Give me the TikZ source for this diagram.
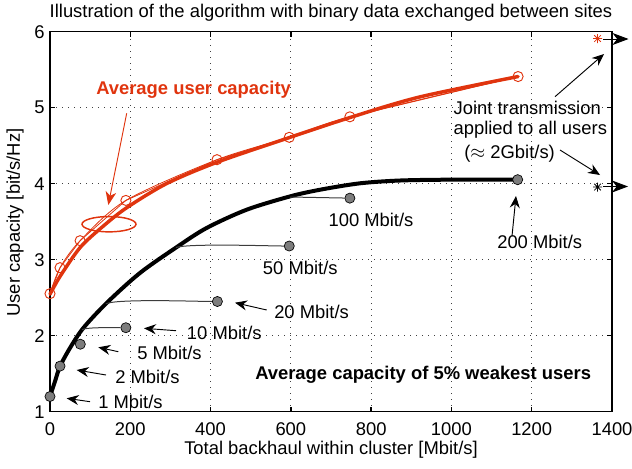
\documentclass[tikz,border=0pt]{standalone}
\usepackage{fontspec}
\setmainfont{Liberation Sans}
\usetikzlibrary{arrows.meta,shapes.geometric}
\definecolor{myred}{RGB}{224,52,14}
\definecolor{dotgray}{RGB}{125,125,125}
\definecolor{linegray}{RGB}{60,60,60}
\begin{document}
\begin{tikzpicture}[x=0.75pt,y=-0.75pt,
  every node/.style={font=\fontsize{13.8pt}{16.5pt}\selectfont, inner sep=0pt},
  boldtxt/.style={font=\fontsize{13.8pt}{16.5pt}\selectfont\bfseries},
  lbl/.style={anchor=west},
  gridline/.style={draw=black!75, line width=0.6pt, dash pattern=on 0.6pt off 3.9pt},
  axisline/.style={draw=black, line width=1pt},
  blackcurve/.style={draw=black, line width=3pt, line cap=round},
  redcurve/.style={draw=myred, line width=2.6pt, line cap=round},
  redthin/.style={draw=myred, line width=0.6pt},
  thinline/.style={draw=linegray, line width=0.75pt},
  gdot/.style={circle, draw=black, fill=dotgray, line width=0.5pt, minimum size=7.6pt},
  rcirc/.style={circle, draw=myred, line width=0.7pt, minimum size=7.6pt},
  ann/.style={draw=black, line width=0.7pt, -{Stealth[length=9pt,width=7.5pt,inset=3pt]}},
  bigann/.style={draw=black, line width=0.7pt, -{Stealth[length=12pt,width=9pt,inset=3.5pt]}},
  redann/.style={draw=myred, line width=0.7pt, -{Stealth[length=10pt,width=8pt,inset=3pt]}},
  starmark/.style={line width=0.6pt}
]
\useasboundingbox (0,0) rectangle (632,468);

% ---------- data coordinate system ----------
\begin{scope}[shift={(37.5pt,-365.775pt)}, x=0.30107pt, y=57pt]
  \foreach \v in {200,400,...,1200} \draw[gridline] (\v,1) -- (\v,6);
  \foreach \v in {2,...,5} \draw[gridline] (0,\v) -- (1400,\v);
  \foreach \v in {0,200,...,1400} {
    \draw[axisline] (\v,1) -- ++(0,3.75pt);
    \draw[axisline] (\v,6) -- ++(0,-3.75pt);
    \node[yshift=-13.2pt] (xt\v) at (\v,1) {\v};
  }
  \foreach \v in {1,...,6} {
    \draw[axisline] (0,\v) -- ++(3.75pt,0);
    \draw[axisline] (1400,\v) -- ++(-3.75pt,0);
    \node[anchor=east, xshift=-3.9pt] (yt\v) at (0,\v) {\v};
  }
  \draw[axisline] (0,1) rectangle (1400,6);

  % red curves
  \draw[redthin] plot[smooth, tension=0.5] coordinates {(0,2.553) (25,2.895) (75,3.25) (189,3.78) (416,4.316) (596,4.61) (747,4.88) (1166,5.41)};
  \draw[redcurve] plot[smooth, tension=0.5] coordinates {(0,2.545) (25,2.78) (75,3.16) (130,3.43) (190,3.68) (290,4.0) (415,4.28) (595,4.605) (747,4.87) (920,5.14) (1166,5.41)};
  \node[rcirc] (r1) at (0,2.553) {};
  \node[rcirc] (r2) at (25,2.895) {};
  \node[rcirc] (r3) at (75,3.25) {};
  \node[rcirc] (r4) at (189,3.78) {};
  \node[rcirc] (r5) at (416,4.316) {};
  \node[rcirc] (r6) at (596,4.61) {};
  \node[rcirc] (r7) at (747,4.88) {};
  \node[rcirc] (r8) at (1166,5.41) {};
  \draw[redthin] (r1.center) -- (r2.center) -- (r3.center) -- (r4.center) -- (r5.center) -- (r6.center) -- (r7.center) -- (r8.center);

  % black curve
  \draw[blackcurve] plot[smooth, tension=0.5] coordinates {(0,1.201) (12.5,1.40) (24.9,1.596) (50,1.84) (83,2.101) (141,2.43) (224,2.825) (316,3.167) (390,3.417) (490,3.658) (598,3.833) (673,3.921) (772,4.005) (872,4.042) (996,4.053) (1165,4.053)};
  \coordinate (c10) at (80,2.08);
  \coordinate (c20) at (139,2.42);
  \coordinate (c50) at (314,3.16);
  \coordinate (c100) at (598,3.825);
  \node[gdot] (b1) at (0,1.2) {};
  \node[gdot] (b2) at (25,1.6) {};
  \node[gdot] (b5) at (75.5,1.888) {};
  \node[gdot] (b10) at (189,2.105) {};
  \node[gdot] (b20) at (417,2.45) {};
  \node[gdot] (b50) at (596,3.18) {};
  \node[gdot] (b100) at (747,3.81) {};
  \node[gdot] (b200) at (1165,4.053) {};
  \draw[thinline] (c10) to[out=30,in=180,looseness=0.35] (b10);
  \draw[thinline] (c20) to[out=25,in=180,looseness=0.3] (b20);
  \draw[thinline] (c50) to[out=20,in=180,looseness=0.3] (b50);
  \draw[thinline] (c100) -- (b100);

  % joint transmission stars
  \coordinate (s1) at (1364,5.91);
  \coordinate (s2) at (1364,3.956);
\end{scope}

% star markers
\draw[starmark, myred] (s1) ++(-4.5,0) -- ++(9,0) (s1) ++(0,-4.5) -- ++(0,9) (s1) ++(-3.3,-3.3) -- ++(6.6,6.6) (s1) ++(-3.3,3.3) -- ++(6.6,-6.6);
\draw[starmark, black] (s2) ++(-4.5,0) -- ++(9,0) (s2) ++(0,-4.5) -- ++(0,9) (s2) ++(-3.3,-3.3) -- ++(6.6,6.6) (s2) ++(-3.3,3.3) -- ++(6.6,-6.6);
\coordinate (s1t) at (603,39);
\coordinate (s1h) at (628.5,39);
\coordinate (s2t) at (603,186.5);
\coordinate (s2h) at (628,186.5);
\draw[bigann] (s1t) -- (s1h);
\draw[bigann] (s2t) -- (s2h);

% title and axis labels
\node (title) at (331,13) {Illustration of the algorithm with binary data exchanged between sites};
\node (xlab) at (331,450) {Total backhaul within cluster [Mbit/s]};
\node[rotate=90] (ylab) at (15,222.5) {User capacity [bit/s/Hz]};

% red annotation
\node[boldtxt, lbl, text=myred] (avg) at (96,90) {Average user capacity};
\node[draw=myred, ellipse, line width=1.1pt, minimum width=40.5pt, minimum height=11.5pt] (ell) at (109,224.2) {};
\coordinate (ra) at (126.7,113.3);
\coordinate (rb) at (108.3,205);
\draw[redann] (ra) -- (rb);

% labels of black points
\node[lbl] (l1) at (98,401.7) {1 Mbit/s};
\node[lbl] (l2) at (115,376.7) {2 Mbit/s};
\node[lbl] (l5) at (137,353.3) {5 Mbit/s};
\node[lbl] (l10) at (186.7,332.7) {10 Mbit/s};
\node[lbl] (l20) at (274,311.7) {20 Mbit/s};
\node[lbl] (l50) at (262.7,268.3) {50 Mbit/s};
\node[lbl] (l100) at (328.3,220) {100 Mbit/s};
\node[lbl] (l200) at (497,242) {200 Mbit/s};
\node[boldtxt, lbl] (weak) at (255,375) {Average capacity of 5\% weakest users};

\coordinate (a1t) at (90,401.7);   \coordinate (a1h) at (66.7,398.3);
\coordinate (a2t) at (106,375);    \coordinate (a2h) at (76.7,370);
\coordinate (a5t) at (118.3,351.7);\coordinate (a5h) at (98.3,347.3);
\coordinate (a10t) at (176,330.7); \coordinate (a10h) at (144,328.3);
\coordinate (a20t) at (266.7,310); \coordinate (a20h) at (235,302.7);
\coordinate (a200t) at (512,236);  \coordinate (a200h) at (516,196);
\draw[ann] (a1t) -- (a1h);
\draw[ann] (a2t) -- (a2h);
\draw[ann] (a5t) -- (a5h);
\draw[ann] (a10t) -- (a10h);
\draw[ann] (a20t) -- (a20h);
\draw[ann] (a200t) -- (a200h);

% joint transmission text
\node[lbl] (j1) at (453.3,108.3) {Joint transmission};
\node[lbl] (j2) at (453.3,130) {applied to all users};
\node[lbl] (j3) at (464,153.3) {($\approx$ 2Gbit/s)};
\coordinate (j1t) at (555,96.7);  \coordinate (j1h) at (604,54);
\coordinate (j2t) at (560,150);   \coordinate (j2h) at (600,175);
\draw[ann] (j1t) -- (j1h);
\draw[ann] (j2t) -- (j2h);
\end{tikzpicture}
\end{document}
